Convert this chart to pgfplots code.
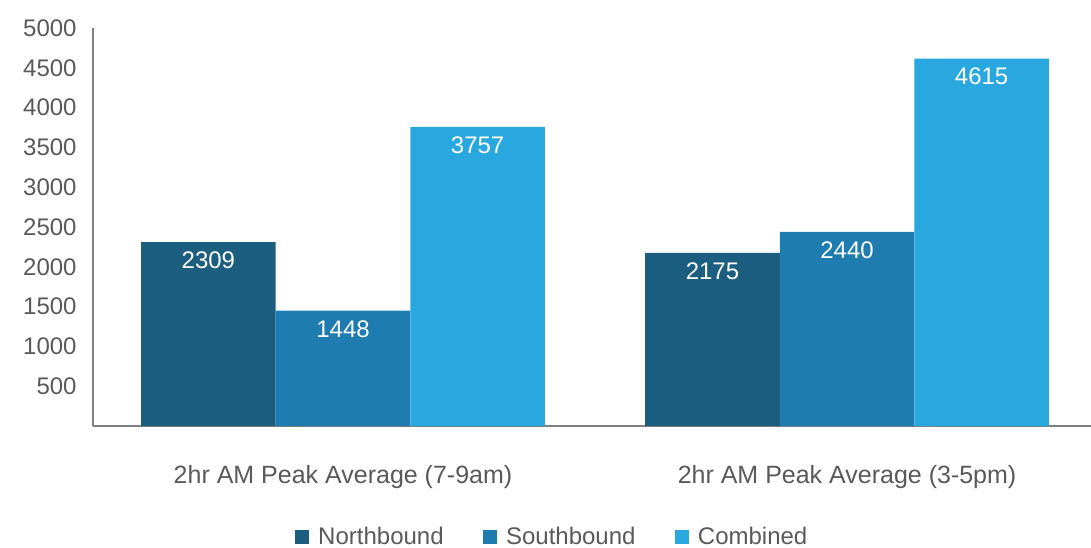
\documentclass[border=0pt]{standalone}
\usepackage{pgfplots}
\pgfplotsset{compat=1.18}
\usepackage{fontspec}
\setmainfont{Liberation Sans}

\definecolor{northc}{RGB}{27,94,128}
\definecolor{southc}{RGB}{30,124,176}
\definecolor{combc}{RGB}{41,168,224}
\definecolor{txtgray}{RGB}{89,89,89}
\definecolor{axgray}{RGB}{128,128,128}

\begin{document}
\begin{tikzpicture}
\begin{axis}[
  name=ax,
  scale only axis,
  width=499pt, height=199pt,
  ybar=0pt,
  bar width=67.3pt,
  xmin=-0.496, xmax=1.484,
  ymin=0, ymax=5000,
  ytick={500,1000,...,5000},
  xtick={0,1},
  xticklabels={2hr AM Peak Average (7-9am), 2hr AM Peak Average (3-5pm)},
  axis x line*=bottom,
  axis y line*=left,
  axis line style={axgray, line width=0.8pt, -},
  major tick length=0pt,
  /pgf/number format/assume math mode=true,
  /pgf/number format/1000 sep={},
  tick label style={font=\fontsize{12}{14}\selectfont, text=txtgray},
  yticklabel style={inner sep=0pt, xshift=-8pt},
  xticklabel style={inner sep=0pt, anchor=center, yshift=-25.5pt, font=\fontsize{12.5}{14}\selectfont},
  nodes near coords,
  every node near coord/.append style={
    anchor=center, inner sep=0pt, yshift=-9pt,
    text=white, font=\fontsize{12}{14}\selectfont,
    /pgf/number format/assume math mode=true},
  legend style={
    at={(0.461,-0.279)}, anchor=center,
    draw=none, fill=none,
    legend columns=-1,
    font=\fontsize{12}{14}\selectfont, text=txtgray,
    /tikz/every odd column/.append style={column sep=2.5pt},
    /tikz/every even column/.append style={column sep=17.5pt},
  },
  legend image code/.code={\fill[#1] (0pt,-3.6pt) rectangle (7.2pt,3.6pt);},
  clip=false,
]
\addplot[fill=northc, draw=none] coordinates {(0,2309) (1,2175)};
\addplot[fill=southc, draw=none] coordinates {(0,1448) (1,2440)};
\addplot[fill=combc, draw=none] coordinates {(0,3757) (1,4615)};
\legend{Northbound, Southbound, Combined}
\end{axis}
\pgfresetboundingbox
\path ([shift={(-46.5pt,-60.5pt)}]ax.south west) rectangle ([shift={(0pt,14pt)}]ax.north east);
\end{tikzpicture}
\end{document}
